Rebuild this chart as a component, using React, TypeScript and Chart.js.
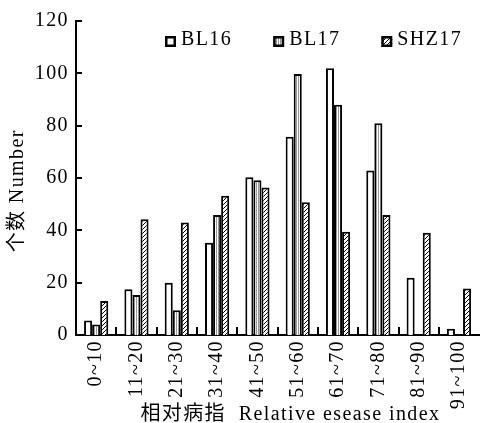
import React, { useEffect, useRef } from 'react';
import { Chart, registerables } from 'chart.js';

Chart.register(...registerables);

const categories = ['0~10', '11~20', '21~30', '31~40', '41~50', '51~60', '61~70', '71~80', '81~90', '91~100'];
const seriesNames = ['BL16', 'BL17', 'SHZ17'];
const bl16 = [5.5, 17.5, 20, 35.3, 60.3, 75.8, 101.9, 62.9, 21.9, 2.4];
const bl17 = [4, 15.3, 9.5, 45.9, 59.1, 99.7, 88, 80.9, 0, 0];
const shz17 = [13, 44.2, 43, 53.2, 56.4, 50.7, 39.5, 45.9, 39.1, 17.8];
const yMin = 0;
const yMax = 120;
const yStep = 20;
const xTitle = '    相对病指  Relative esease index';
const yTitle = '个数 Number    ';

const FONT = "'Liberation Serif', 'Noto Sans CJK SC', serif";
const FONT_SIZE = 20;
const SPACING = '1.4px';

function makeStripePattern(): CanvasPattern | string {
  const c = document.createElement('canvas');
  c.width = 2;
  c.height = 2;
  const g = c.getContext('2d');
  if (!g) return '#bbb';
  g.fillStyle = '#999';
  g.fillRect(0, 0, 1, 2);
  g.fillStyle = '#fff';
  g.fillRect(1, 0, 1, 2);
  return g.createPattern(c, 'repeat') || '#bbb';
}

function makeHatchPattern(): CanvasPattern | string {
  const s = 4;
  const c = document.createElement('canvas');
  c.width = s;
  c.height = s;
  const g = c.getContext('2d');
  if (!g) return '#666';
  g.fillStyle = '#fff';
  g.fillRect(0, 0, s, s);
  g.strokeStyle = '#000';
  g.lineWidth = 1;
  g.beginPath();
  g.moveTo(0, s);
  g.lineTo(s, 0);
  g.moveTo(-1, 1);
  g.lineTo(1, -1);
  g.moveTo(s - 1, s + 1);
  g.lineTo(s + 1, s - 1);
  g.stroke();
  return g.createPattern(c, 'repeat') || '#666';
}

const spacingPlugin = {
  id: 'letterSpacing',
  beforeUpdate(chart: any) {
    (chart.ctx as any).letterSpacing = SPACING;
  },
  beforeLayout(chart: any) {
    (chart.ctx as any).letterSpacing = SPACING;
  },
  beforeDraw(chart: any) {
    (chart.ctx as any).letterSpacing = SPACING;
  },
};

const innerTicksPlugin = {
  id: 'innerTicks',
  afterDraw(chart: any) {
    const { ctx, chartArea, scales } = chart;
    const xs = scales.x;
    const ys = scales.y;
    ctx.save();
    ctx.strokeStyle = '#000';
    ctx.lineWidth = 2;
    ctx.beginPath();
    ys.ticks.forEach((t: any) => {
      const y = Math.round(ys.getPixelForValue(t.value));
      ctx.moveTo(chartArea.left, y);
      ctx.lineTo(chartArea.left + 6, y);
    });
    const n = categories.length;
    for (let i = 1; i < n; i++) {
      const x = Math.round((xs.getPixelForValue(i - 1) + xs.getPixelForValue(i)) / 2);
      ctx.moveTo(x, chartArea.bottom);
      ctx.lineTo(x, chartArea.bottom - 8);
    }
    ctx.stroke();
    ctx.restore();
  },
};

const legendPlugin = {
  id: 'patternLegend',
  afterDraw(chart: any) {
    const { ctx, chartArea } = chart;
    ctx.save();
    ctx.font = `${FONT_SIZE}px ${FONT}`;
    ctx.letterSpacing = SPACING;
    ctx.textBaseline = 'alphabetic';
    ctx.textAlign = 'left';
    const box = 11;
    let x = chartArea.left + 89;
    const boxTop = chartArea.top + 15;
    const baseline = chartArea.top + 24;
    chart.data.datasets.forEach((ds: any) => {
      ctx.fillStyle = ds.backgroundColor;
      ctx.fillRect(x, boxTop, box, box);
      ctx.strokeStyle = '#000';
      ctx.lineWidth = 2.5;
      ctx.strokeRect(x + 1.25, boxTop + 1.25, box - 2.5, box - 2.5);
      ctx.fillStyle = '#000';
      const tx = x + box + 5;
      ctx.fillText(ds.label, tx, baseline);
      x = tx + ctx.measureText(ds.label).width + 41;
    });
    ctx.restore();
  },
};

export default function App() {
  const ref = useRef<HTMLCanvasElement | null>(null);

  useEffect(() => {
    const canvas = ref.current;
    if (!canvas) return;
    document.body.style.margin = '0';
    const stripe = makeStripePattern();
    const hatch = makeHatchPattern();
    const fills = ['#fff', stripe, hatch];
    const seriesData = [bl16, bl17, shz17];

    const chart = new Chart(canvas, {
      type: 'bar',
      data: {
        labels: categories,
        datasets: seriesNames.map((name, i) => ({
          label: name,
          data: seriesData[i],
          backgroundColor: fills[i] as any,
          borderColor: '#000',
          borderWidth: 2,
          categoryPercentage: 0.6,
          barPercentage: 1.0,
        })),
      },
      options: {
        animation: false,
        responsive: false,
        devicePixelRatio: 1,
        layout: { padding: { top: 21, left: 0, right: 0, bottom: 0 } },
        plugins: {
          legend: { display: false },
          tooltip: { enabled: false },
        },
        scales: {
          x: {
            grid: { display: false, drawTicks: false },
            border: { display: true, color: '#000', width: 2 },
            ticks: {
              color: '#000',
              font: { family: FONT, size: FONT_SIZE },
              maxRotation: 90,
              minRotation: 90,
              autoSkip: false,
              padding: 5,
            },
            title: {
              display: true,
              text: xTitle,
              color: '#000',
              font: { family: FONT, size: FONT_SIZE, lineHeight: 1 },
              padding: { top: 0, bottom: -2 },
            },
            afterFit(scale: any) {
              scale.height = 88;
            },
          },
          y: {
            min: yMin,
            max: yMax,
            grid: { display: false, drawTicks: false },
            border: { display: true, color: '#000', width: 2 },
            ticks: {
              stepSize: yStep,
              color: '#000',
              font: { family: FONT, size: FONT_SIZE },
              padding: 7,
            },
            title: {
              display: true,
              text: yTitle,
              color: '#000',
              font: { family: FONT, size: FONT_SIZE, lineHeight: 1 },
              padding: { top: 8, bottom: 0 },
            },
            afterFit(scale: any) {
              scale.width = 76;
            },
          },
        },
      },
      plugins: [spacingPlugin, innerTicksPlugin, legendPlugin],
    });

    return () => {
      chart.destroy();
    };
  }, []);

  return (
    <div style={{ position: 'absolute', left: 0, top: 0, width: 488, height: 423 }}>
      <canvas ref={ref} width={488} height={423} style={{ display: 'block' }} />
    </div>
  );
}
